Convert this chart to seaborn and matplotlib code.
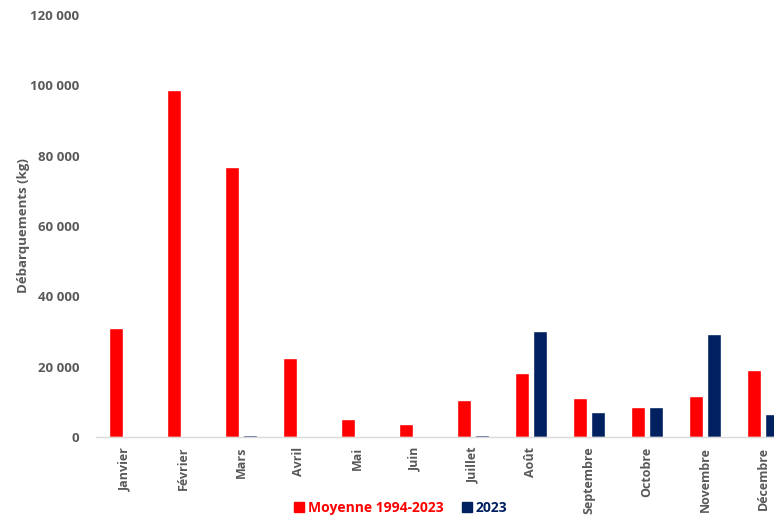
import matplotlib
matplotlib.use("Agg")
import matplotlib.pyplot as plt
import seaborn as sns
import pandas as pd
from matplotlib.ticker import FuncFormatter
from matplotlib.patches import Patch

months = ["Janvier", "Février", "Mars", "Avril", "Mai", "Juin", "Juillet",
          "Août", "Septembre", "Octobre", "Novembre", "Décembre"]
moyenne = [31000, 98700, 76800, 22500, 5100, 3700, 10500, 18200, 11100, 8500, 11700, 19100]
val_2023 = [150, 150, 600, 150, 150, 150, 600, 30200, 7100, 8500, 29300, 6500]
series_names = ["Moyenne 1994-2023", "2023"]
colors = ["#FF0000", "#002060"]

df = pd.DataFrame({
    "Mois": months * 2,
    "Série": [series_names[0]] * 12 + [series_names[1]] * 12,
    "Valeur": moyenne + val_2023,
})

sns.set_theme(style="white")
plt.rcParams["font.family"] = ["Open Sans", "DejaVu Sans"]

fig = plt.figure(figsize=(7.74, 5.19), dpi=100)
ax = fig.add_axes([96 / 774, 1 - 437 / 519, 696 / 774, (437 - 15) / 519])

sns.barplot(data=df, x="Mois", y="Valeur", hue="Série", order=months,
            hue_order=series_names, palette=colors, width=0.6, gap=0.18,
            saturation=1, ax=ax, legend=False)

ax.set_xlim(-0.5, 11.5)
ax.set_ylim(0, 120000)
ax.set_yticks(range(0, 120001, 20000))
ax.yaxis.set_major_formatter(FuncFormatter(lambda v, p: f"{int(v):,}".replace(",", " ")))

tick_color = "#595959"
for lab in ax.get_yticklabels():
    lab.set_fontweight("bold")
    lab.set_color(tick_color)
    lab.set_fontsize(9.5)
ax.set_xticks(range(len(months)))
ax.set_xticklabels(months, rotation=90, fontsize=9, fontweight="bold", color=tick_color)
ax.tick_params(axis="x", length=0, pad=7)
ax.tick_params(axis="y", length=0, pad=12)

ax.set_xlabel("")
ax.set_ylabel("Débarquements (kg)", fontsize=9.5, fontweight="bold", color=tick_color, labelpad=0)

for s in ["top", "right", "left"]:
    ax.spines[s].set_visible(False)
ax.spines["bottom"].set_color("#D9D9D9")
ax.spines["bottom"].set_linewidth(1)

handles = [Patch(facecolor=c, edgecolor=c) for c in colors]
leg = fig.legend(handles, series_names, loc="center", bbox_to_anchor=(401 / 774, 1 - 508 / 519),
                 ncol=2, frameon=False, handlelength=0.7, handleheight=0.7,
                 handletextpad=0.3, columnspacing=1.3, prop={"weight": "bold", "size": 10})
for t, c in zip(leg.get_texts(), colors):
    t.set_color(c)

fig.savefig("out.png", dpi=100)
